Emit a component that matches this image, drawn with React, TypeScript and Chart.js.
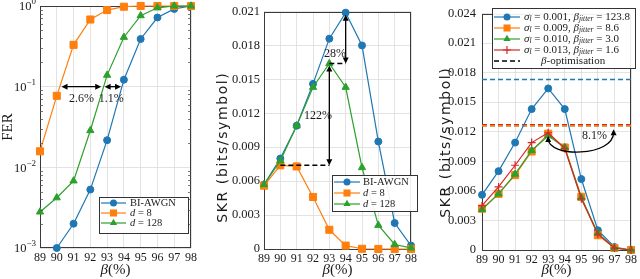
import React, { useEffect, useRef } from 'react';
import { Chart, registerables } from 'chart.js';
Chart.register(...registerables);

const SERIF = "'Liberation Serif', 'Times New Roman', serif";
const SANS = "'DejaVu Sans', 'Liberation Sans', sans-serif";
const C_BLUE = '#1f77b4';
const C_ORANGE = '#ff7f0e';
const C_GREEN = '#2ca02c';
const C_RED = '#d62728';

// ---- data ----
const BETA = [89, 90, 91, 92, 93, 94, 95, 96, 97, 98];

const FER_AWGN = [null, 0.001, 0.002, 0.0053, 0.0217, 0.122, 0.39, 0.72, 0.92, 1.0];
const FER_D8 = [0.0158, 0.077, 0.33, 0.68, 0.89, 0.98, 1.0, 1.0, 1.0, 1.0];
const FER_D128 = [0.0028, 0.0042, 0.0068, 0.0286, 0.139, 0.41, 0.76, 0.95, 1.0, 1.0];
const FER_TICKS = [0.001, 0.01, 0.1, 1];
const FER_EXP = ['\u22123', '\u22122', '\u22121', '0'];

const SKR_AWGN = [0.0057, 0.008, 0.0109, 0.0146, 0.0186, 0.0209, 0.018, 0.0095, 0.0023, 0.0003];
const SKR_D8 = [0.0056, 0.0074, 0.0073, 0.0046, 0.0017, 0.0003, 0.00002, 0, 0, 0];
const SKR_D128 = [0.0057, 0.0078, 0.0109, 0.0143, 0.0164, 0.0143, 0.0072, 0.0021, 0.0004, 0.0001];

const J_001 = [0.0056, 0.008, 0.0109, 0.0143, 0.0164, 0.0143, 0.0072, 0.002, 0.0003, 0.0];
const J_009 = [0.0042, 0.0057, 0.0076, 0.01, 0.0118, 0.0104, 0.0054, 0.0015, 0.0002, 0.0];
const J_010 = [0.0041, 0.0057, 0.0077, 0.0101, 0.0116, 0.0104, 0.0053, 0.0017, 0.0002, 0.0];
const J_013 = [0.0045, 0.0064, 0.0086, 0.0109, 0.0119, 0.0103, 0.0052, 0.0016, 0.0002, 0.0];
const J_OPT = [0.0173, 0.0126, 0.0126, 0.0127];
const J_SIGMA = ['0.001', '0.009', '0.010', '0.013'];
const J_BJIT = ['123.8', '8.6', '3.0', '1.6'];

const FER_GAP_LABELS = ['2.6%', '1.1%'];
const SKR_GAP_LABELS = ['28%', '122%'];
const JIT_GAP_LABEL = '8.1%';

// ---- helpers ----
const pts = (ys: (number | null)[]) => BETA.map((x, i) => ({ x, y: ys[i] }));

function series(label: string, ys: (number | null)[], color: string, style: string, radius: number, order: number) {
  return {
    label,
    data: pts(ys),
    borderColor: color,
    backgroundColor: color,
    borderWidth: 1.2,
    pointStyle: style,
    pointRadius: radius,
    pointBorderWidth: style === 'cross' ? 1.2 : 1,
    pointBackgroundColor: color,
    pointBorderColor: color,
    tension: 0,
    clip: false,
    order,
  };
}

function hline(v: number, x0: number, x1: number, color: string, order: number) {
  return {
    label: 'h',
    data: [{ x: x0, y: v }, { x: x1, y: v }],
    borderColor: color,
    borderWidth: 1.5,
    borderDash: [5, 3],
    pointRadius: 0,
    clip: false,
    order,
  };
}

function drawMarker(ctx: CanvasRenderingContext2D, style: string, x: number, y: number, r: number, color: string) {
  ctx.save();
  ctx.fillStyle = color;
  ctx.strokeStyle = color;
  ctx.lineWidth = 1;
  ctx.beginPath();
  if (style === 'circle') {
    ctx.arc(x, y, r, 0, Math.PI * 2);
    ctx.fill();
  } else if (style === 'rect') {
    const s = Math.SQRT1_2 * r;
    ctx.rect(x - s, y - s, 2 * s, 2 * s);
    ctx.fill();
  } else if (style === 'triangle') {
    let a = 0;
    ctx.moveTo(x + Math.sin(a) * r, y - Math.cos(a) * r);
    a += (2 * Math.PI) / 3;
    ctx.lineTo(x + Math.sin(a) * r, y - Math.cos(a) * r);
    a += (2 * Math.PI) / 3;
    ctx.lineTo(x + Math.sin(a) * r, y - Math.cos(a) * r);
    ctx.closePath();
    ctx.fill();
  } else if (style === 'cross') {
    ctx.lineWidth = 1.2;
    ctx.moveTo(x - r, y);
    ctx.lineTo(x + r, y);
    ctx.moveTo(x, y - r);
    ctx.lineTo(x, y + r);
    ctx.stroke();
  }
  ctx.restore();
}

function arrowHead(ctx: CanvasRenderingContext2D, x: number, y: number, ang: number) {
  const len = 6;
  const w = 3;
  ctx.beginPath();
  ctx.moveTo(x, y);
  ctx.lineTo(x - len * Math.cos(ang) + w * Math.sin(ang), y - len * Math.sin(ang) - w * Math.cos(ang));
  ctx.lineTo(x - len * Math.cos(ang) - w * Math.sin(ang), y - len * Math.sin(ang) + w * Math.cos(ang));
  ctx.closePath();
  ctx.fill();
}

function dblArrow(ctx: CanvasRenderingContext2D, x1: number, y1: number, x2: number, y2: number) {
  ctx.save();
  ctx.strokeStyle = '#000';
  ctx.fillStyle = '#000';
  ctx.lineWidth = 1.3;
  const ang = Math.atan2(y2 - y1, x2 - x1);
  ctx.beginPath();
  ctx.moveTo(x1 + 3 * Math.cos(ang), y1 + 3 * Math.sin(ang));
  ctx.lineTo(x2 - 3 * Math.cos(ang), y2 - 3 * Math.sin(ang));
  ctx.stroke();
  arrowHead(ctx, x2, y2, ang);
  arrowHead(ctx, x1, y1, ang + Math.PI);
  ctx.restore();
}

function text(ctx: CanvasRenderingContext2D, s: string, x: number, y: number, size = 12, align: CanvasTextAlign = 'center', italic = false) {
  ctx.save();
  ctx.font = `${italic ? 'italic ' : ''}${size}px ${SERIF}`;
  ctx.fillStyle = '#1a1a1a';
  ctx.textAlign = align;
  ctx.textBaseline = 'middle';
  ctx.fillText(s, x, y);
  ctx.restore();
}

function drawXTitle(ctx: CanvasRenderingContext2D, cx: number, y: number) {
  ctx.save();
  ctx.fillStyle = '#1a1a1a';
  ctx.textBaseline = 'middle';
  ctx.font = `italic 15px ${SERIF}`;
  const wb = ctx.measureText('\u03b2').width;
  ctx.font = `15px ${SERIF}`;
  const wr = ctx.measureText('(%)').width;
  const x0 = cx - (wb + wr) / 2;
  ctx.textAlign = 'left';
  ctx.font = `italic 15px ${SERIF}`;
  ctx.fillText('\u03b2', x0, y);
  ctx.font = `15px ${SERIF}`;
  ctx.fillText('(%)', x0 + wb, y);
  ctx.restore();
}

function drawYTitle(ctx: CanvasRenderingContext2D, s: string, x: number, cy: number, font: string, spacing = 0) {
  ctx.save();
  ctx.translate(x, cy);
  ctx.rotate(-Math.PI / 2);
  ctx.font = font;
  ctx.fillStyle = '#1a1a1a';
  ctx.textBaseline = 'middle';
  if (spacing) {
    // manual letter spacing, centred
    const widths = Array.from(s).map((ch) => ctx.measureText(ch).width);
    const total = widths.reduce((p, c) => p + c, 0) + spacing * (widths.length - 1);
    let cx = -total / 2;
    ctx.textAlign = 'left';
    Array.from(s).forEach((ch, i) => {
      ctx.fillText(ch, cx, 0);
      cx += widths[i] + spacing;
    });
  } else {
    ctx.textAlign = 'center';
    ctx.fillText(s, 0, 0);
  }
  ctx.restore();
}

function legendBox(ctx: CanvasRenderingContext2D, x0: number, y0: number, x1: number, y1: number) {
  ctx.save();
  ctx.fillStyle = 'rgba(255,255,255,0.92)';
  ctx.strokeStyle = '#333';
  ctx.lineWidth = 1;
  ctx.fillRect(x0, y0, x1 - x0, y1 - y0);
  ctx.strokeRect(x0 + 0.5, y0 + 0.5, x1 - x0, y1 - y0);
  ctx.restore();
}

function legendLine(ctx: CanvasRenderingContext2D, x0: number, x1: number, y: number, color: string, style: string | null, r: number, dashed = false) {
  ctx.save();
  ctx.strokeStyle = color;
  ctx.lineWidth = dashed ? 1.5 : 1.2;
  if (dashed) ctx.setLineDash([5, 3]);
  ctx.beginPath();
  ctx.moveTo(x0, y);
  ctx.lineTo(x1, y);
  ctx.stroke();
  ctx.restore();
  if (style) drawMarker(ctx, style, (x0 + x1) / 2, y, r, color);
}

function drawDLabel(ctx: CanvasRenderingContext2D, x: number, y: number, v: string) {
  ctx.save();
  ctx.fillStyle = '#1a1a1a';
  ctx.textBaseline = 'middle';
  ctx.textAlign = 'left';
  ctx.font = `italic 10.5px ${SERIF}`;
  ctx.fillText('d', x, y);
  const w = ctx.measureText('d').width;
  ctx.font = `10.5px ${SERIF}`;
  ctx.fillText(' = ' + v, x + w, y);
  ctx.restore();
}

const framePlugin = {
  id: 'frame',
  beforeDatasetsDraw(chart: any) {
    const { ctx, chartArea: a } = chart;
    ctx.save();
    ctx.strokeStyle = '#3a3a3a';
    ctx.lineWidth = 1;
    ctx.strokeRect(Math.round(a.left) + 0.5, Math.round(a.top) + 0.5, Math.round(a.right - a.left) - 1, Math.round(a.bottom - a.top) - 1);
    ctx.restore();
  },
};

function makeDecorPlugin(decor: (c: any) => void) {
  return { id: 'decor', afterDraw: (chart: any) => decor(chart) };
}

function baseOptions(yWidth: number, xHeight: number, pad: any, yScale: any) {
  return {
    responsive: false,
    maintainAspectRatio: false,
    animation: false,
    devicePixelRatio: 1,
    layout: { padding: pad },
    plugins: { legend: { display: false }, tooltip: { enabled: false } },
    events: [],
    scales: {
      x: {
        type: 'linear',
        min: 89,
        max: 98,
        afterFit: (s: any) => { s.height = xHeight; },
        ticks: { stepSize: 1, autoSkip: false, maxRotation: 0, minRotation: 0, color: '#1a1a1a', font: { family: SERIF, size: 12 }, padding: 3 },
        grid: { color: '#dcdcdc', lineWidth: 0.8, drawTicks: false },
        border: { display: false },
      },
      y: Object.assign({
        afterFit: (s: any) => { s.width = yWidth; },
        grid: { color: '#dcdcdc', lineWidth: 0.8, drawTicks: false },
        border: { display: false },
      }, yScale),
    },
  };
}

const fmt3 = (v: number) => (Math.abs(v) < 1e-9 ? '0' : (Math.round(v * 1000) / 1000).toFixed(3));
const SKR_TITLE_FONT = `14px ${SANS}`;
const SKR_TITLE = 'SKR (bits/symbol)';

// ---------------- chart 1: FER ----------------
function fer(canvas: HTMLCanvasElement) {
  const decor = (chart: any) => {
    const { ctx, scales: { x, y }, chartArea: a } = chart;
    ctx.save();
    ctx.strokeStyle = '#555';
    ctx.lineWidth = 0.8;
    for (let d = -3; d < 0; d++) {
      for (let m = 2; m <= 9; m++) {
        const py = Math.round(y.getPixelForValue(m * Math.pow(10, d))) + 0.5;
        ctx.beginPath();
        ctx.moveTo(a.left, py); ctx.lineTo(a.left + 3, py);
        ctx.moveTo(a.right, py); ctx.lineTo(a.right - 3, py);
        ctx.stroke();
      }
    }
    ctx.restore();
    FER_TICKS.forEach((v, i) => {
      const py = y.getPixelForValue(v);
      ctx.save();
      ctx.fillStyle = '#1a1a1a';
      ctx.textBaseline = 'middle';
      ctx.textAlign = 'right';
      ctx.font = `9px ${SERIF}`;
      const ew = ctx.measureText(FER_EXP[i]).width;
      const right = a.left - 4;
      ctx.fillText(FER_EXP[i], right, py - 4);
      ctx.font = `12.5px ${SERIF}`;
      ctx.fillText('10', right - ew, py + 1);
      ctx.restore();
    });
    drawYTitle(ctx, 'FER', 8, (a.top + a.bottom) / 2, `15px ${SERIF}`);
    drawXTitle(ctx, (a.left + a.right) / 2, 270);
    const yA = y.getPixelForValue(0.1);
    dblArrow(ctx, x.getPixelForValue(90.28), yA, x.getPixelForValue(92.65), yA);
    dblArrow(ctx, x.getPixelForValue(92.85), yA, x.getPixelForValue(93.83), yA);
    const yL = y.getPixelForValue(0.07);
    text(ctx, FER_GAP_LABELS[0], x.getPixelForValue(91.47), yL, 12);
    text(ctx, FER_GAP_LABELS[1], x.getPixelForValue(93.25), yL, 12);
    legendBox(ctx, 99, 197, 188, 233);
    const rows = [203, 213, 223];
    legendLine(ctx, 101, 126, rows[0], C_BLUE, 'circle', 3.5);
    legendLine(ctx, 101, 126, rows[1], C_ORANGE, 'rect', 5);
    legendLine(ctx, 101, 126, rows[2], C_GREEN, 'triangle', 4.2);
    text(ctx, 'BI-AWGN', 130, rows[0], 10.5, 'left');
    drawDLabel(ctx, 130, rows[1], '8');
    drawDLabel(ctx, 130, rows[2], '128');
  };
  return new Chart(canvas, {
    type: 'line',
    data: {
      datasets: [
        series('BI-AWGN', FER_AWGN, C_BLUE, 'circle', 3.5, 3),
        series('d = 8', FER_D8, C_ORANGE, 'rect', 5, 2),
        series('d = 128', FER_D128, C_GREEN, 'triangle', 4.2, 1),
      ],
    },
    options: baseOptions(40, 31, { left: 0, right: 9, top: 6, bottom: 0 }, {
      type: 'logarithmic',
      min: 0.001,
      max: 1,
      afterBuildTicks: (s: any) => { s.ticks = FER_TICKS.map((v) => ({ value: v })); },
      ticks: { display: false },
    }) as any,
    plugins: [framePlugin, makeDecorPlugin(decor)],
  });
}

// ---------------- chart 2: SKR ----------------
function skr(canvas: HTMLCanvasElement) {
  const decor = (chart: any) => {
    const { ctx, scales: { x, y }, chartArea: a } = chart;
    drawYTitle(ctx, SKR_TITLE, 23, 148, SKR_TITLE_FONT, 1.6);
    drawXTitle(ctx, (a.left + a.right) / 2, 270);
    const x93 = x.getPixelForValue(93);
    const x94 = x.getPixelForValue(94);
    dblArrow(ctx, x94, y.getPixelForValue(SKR_AWGN[5]) + 2, x94, y.getPixelForValue(SKR_D128[4]));
    dblArrow(ctx, x93, y.getPixelForValue(SKR_D128[4]) + 2, x93, y.getPixelForValue(SKR_D8[1]));
    text(ctx, SKR_GAP_LABELS[0], x.getPixelForValue(93.35), y.getPixelForValue(0.0173), 12);
    text(ctx, SKR_GAP_LABELS[1], x.getPixelForValue(92.3), y.getPixelForValue(0.0118), 12);
    const ox = -200;
    legendBox(ctx, 332 + ox, 175, 417 + ox, 211);
    const rows = [182, 193, 204];
    legendLine(ctx, 334 + ox, 360 + ox, rows[0], C_BLUE, 'circle', 3.5);
    legendLine(ctx, 334 + ox, 360 + ox, rows[1], C_ORANGE, 'rect', 5);
    legendLine(ctx, 334 + ox, 360 + ox, rows[2], C_GREEN, 'triangle', 4.2);
    text(ctx, 'BI-AWGN', 363 + ox, rows[0], 10.5, 'left');
    drawDLabel(ctx, 363 + ox, rows[1], '8');
    drawDLabel(ctx, 363 + ox, rows[2], '128');
  };
  return new Chart(canvas, {
    type: 'line',
    data: {
      datasets: [
        series('BI-AWGN', SKR_AWGN, C_BLUE, 'circle', 3.5, 3),
        series('d = 8', SKR_D8, C_ORANGE, 'rect', 5, 2),
        series('d = 128', SKR_D128, C_GREEN, 'triangle', 4.2, 1),
        hline(SKR_D8[1], 90, 93, '#000', 0),
        hline(SKR_D128[4], 93, 94, '#000', 0),
      ],
    },
    options: baseOptions(64, 30, { left: 0, right: 3, top: 7, bottom: 0 }, {
      type: 'linear',
      min: 0,
      max: 0.021,
      ticks: { stepSize: 0.003, color: '#1a1a1a', font: { family: SERIF, size: 12.5 }, padding: 4, callback: (v: any) => fmt3(v) },
    }) as any,
    plugins: [framePlugin, makeDecorPlugin(decor)],
  });
}

// ---------------- chart 3: jitter ----------------
function drawSigmaLabel(ctx: CanvasRenderingContext2D, x: number, y: number, s: string, b: string) {
  ctx.save();
  ctx.fillStyle = '#1a1a1a';
  ctx.textBaseline = 'middle';
  ctx.textAlign = 'left';
  let cx = x;
  const put = (t: string, font: string, dy = 0) => {
    ctx.font = font;
    ctx.fillText(t, cx, y + dy);
    cx += ctx.measureText(t).width;
  };
  put('\u03c3', `italic 11px ${SERIF}`);
  put('l', `italic 7.5px ${SERIF}`, 2.5);
  put(' = ' + s + ', ', `11px ${SERIF}`);
  put('\u03b2', `italic 11px ${SERIF}`);
  put('jitter', `italic 7.5px ${SERIF}`, 2.5);
  put(' = ' + b, `11px ${SERIF}`);
  ctx.restore();
}

function jitter(canvas: HTMLCanvasElement) {
  const decor = (chart: any) => {
    const { ctx, scales: { x, y }, chartArea: a } = chart;
    drawYTitle(ctx, SKR_TITLE, 26, 143, SKR_TITLE_FONT, 1.6);
    drawXTitle(ctx, (a.left + a.right) / 2, 270);
    const p0x = x.getPixelForValue(93), p0y = y.getPixelForValue(0.01156);
    const p3x = x.getPixelForValue(96.95), p3y = y.getPixelForValue(0.01225);
    const cy = y.getPixelForValue(0.0094);
    ctx.save();
    ctx.strokeStyle = '#000';
    ctx.fillStyle = '#000';
    ctx.lineWidth = 1.3;
    ctx.beginPath();
    ctx.moveTo(p0x, p0y + 3);
    ctx.bezierCurveTo(p0x, cy, p3x, cy, p3x, p3y + 3);
    ctx.stroke();
    arrowHead(ctx, p0x, p0y, -Math.PI / 2);
    arrowHead(ctx, p3x, p3y, -Math.PI / 2);
    ctx.restore();
    text(ctx, JIT_GAP_LABEL, x.getPixelForValue(95.8), y.getPixelForValue(0.01156), 12);
    const ox = -420;
    legendBox(ctx, 492 + ox, 8, 635 + ox, 68);
    const rows = [17, 28, 39, 50, 61];
    const cols = [C_BLUE, C_ORANGE, C_GREEN, C_RED];
    const sty = ['circle', 'rect', 'triangle', 'cross'];
    const rad = [3.5, 5, 4.2, 4];
    for (let i = 0; i < 4; i++) {
      legendLine(ctx, 494 + ox, 520 + ox, rows[i], cols[i], sty[i], rad[i]);
      drawSigmaLabel(ctx, 524 + ox, rows[i], J_SIGMA[i], J_BJIT[i]);
    }
    legendLine(ctx, 494 + ox, 520 + ox, rows[4], '#000', null, 0, true);
    ctx.save();
    ctx.fillStyle = '#1a1a1a';
    ctx.textBaseline = 'middle';
    ctx.textAlign = 'left';
    ctx.font = `italic 11px ${SERIF}`;
    const bx = 541 + ox;
    ctx.fillText('\u03b2', bx, rows[4]);
    const wb = ctx.measureText('\u03b2').width;
    ctx.font = `11px ${SERIF}`;
    ctx.fillText('-optimisation', bx + wb, rows[4]);
    ctx.restore();
  };
  return new Chart(canvas, {
    type: 'line',
    data: {
      datasets: [
        series('s1', J_001, C_BLUE, 'circle', 3.5, 4),
        series('s9', J_009, C_ORANGE, 'rect', 5, 3),
        series('s10', J_010, C_GREEN, 'triangle', 4.2, 2),
        series('s13', J_013, C_RED, 'cross', 4, 1),
        hline(J_OPT[0], 89, 98, C_BLUE, 5),
        hline(J_OPT[1], 89, 98, C_ORANGE, 5),
        hline(J_OPT[2], 89, 98, C_GREEN, 5),
        hline(J_OPT[3], 89, 98, C_RED, 5),
      ],
    },
    options: baseOptions(62, 29, { left: 0, right: 4, top: 7, bottom: 0 }, {
      type: 'linear',
      min: 0,
      max: 0.024,
      ticks: { stepSize: 0.003, color: '#1a1a1a', font: { family: SERIF, size: 12.5 }, padding: 6, callback: (v: any) => fmt3(v) },
    }) as any,
    plugins: [framePlugin, makeDecorPlugin(decor)],
  });
}

export default function App() {
  const r1 = useRef<HTMLCanvasElement>(null);
  const r2 = useRef<HTMLCanvasElement>(null);
  const r3 = useRef<HTMLCanvasElement>(null);
  useEffect(() => {
    const charts = [fer(r1.current!), skr(r2.current!), jitter(r3.current!)];
    return () => charts.forEach((c) => c.destroy());
  }, []);
  const cs = (left: number, w: number): React.CSSProperties => ({ position: 'absolute', left, top: 0, width: w, height: 279 });
  return (
    <div style={{ position: 'absolute', left: 0, top: 0, width: 640, height: 279, background: '#fff', overflow: 'hidden' }}>
      <canvas ref={r1} width={200} height={279} style={cs(0, 200)} />
      <canvas ref={r2} width={220} height={279} style={cs(200, 220)} />
      <canvas ref={r3} width={220} height={279} style={cs(420, 220)} />
    </div>
  );
}
